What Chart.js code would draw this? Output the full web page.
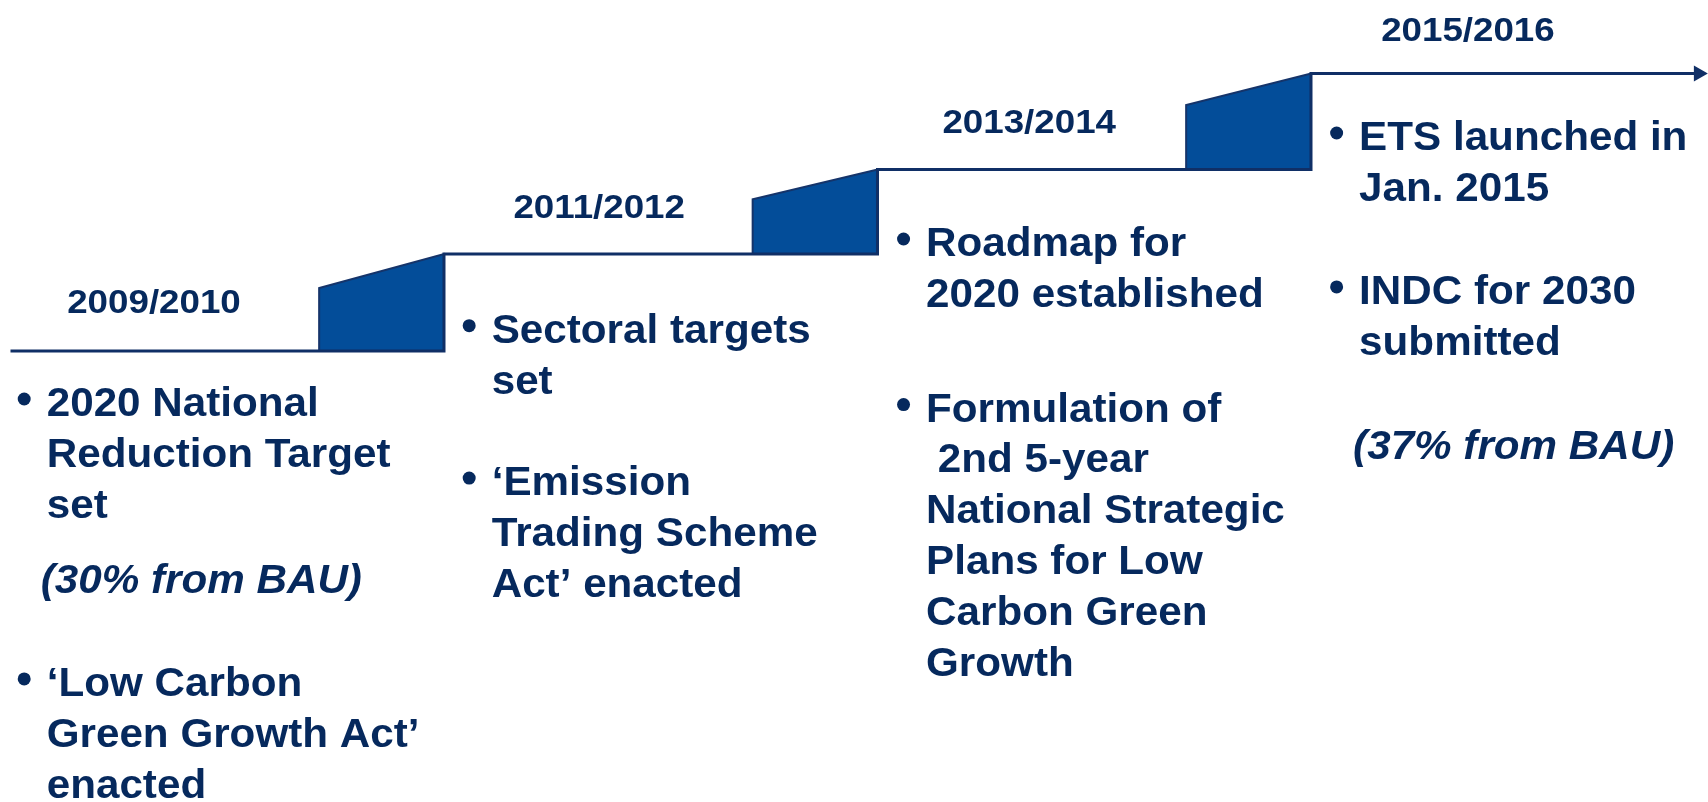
<!DOCTYPE html>
<html>
<head>
<meta charset="utf-8">
<script src="https://cdn.jsdelivr.net/npm/chart.js@4.4.1/dist/chart.umd.min.js"></script>
<style>
  html, body { margin: 0; padding: 0; background: #fff; overflow: hidden; }
  #wrap { width: 1708px; height: 802px; position: relative; }
</style>
</head>
<body>
<div id="wrap"><canvas id="chart"></canvas></div>
<script>
"use strict";

// x axis: one unit per two-year period (block right edges sit at 1, 2, 3)
// y axis: step level, baseline = 0
const periods = ["2009/2010", "2011/2012", "2013/2014", "2015/2016"];
const stepLevels = [0, 0.97, 1.815, 2.775];
const blockStartX = [0.712, 1.712, 2.712];
const blockRiseLevels = [0.63, 1.517, 2.46];
const arrowEndX = 3.894;

const periodLabelX = [0.331, 1.358, 2.35, 3.362];
const periodLabelY = [0.383, 1.327, 2.177, 3.10];

const noteX = [0.0835, 1.11, 2.112, 3.111];
const noteY = [-0.65, 0.083, 0.95, 2.01];

const notes2009 = [
  { bullet: true, lines: ["2020 National", "Reduction Target", "set"] },
  { italic: true, before: 1.49, lines: ["(30% from BAU)"] },
  { bullet: true, before: 2.02, lines: ["‘Low Carbon", "Green Growth Act’", "enacted"] },
];
const notes2011 = [
  { bullet: true, lines: ["Sectoral targets", "set"] },
  { bullet: true, before: 2, lines: ["‘Emission", "Trading Scheme", "Act’ enacted"] },
];
const notes2013 = [
  { bullet: true, lines: ["Roadmap for", "2020 established"] },
  { bullet: true, before: 2.26, lines: ["Formulation of", " 2nd 5-year", "National Strategic",
    "Plans for Low", "Carbon Green", "Growth"] },
];
const notes2015 = [
  { bullet: true, lines: ["ETS launched in", "Jan. 2015"] },
  { bullet: true, before: 2.03, lines: ["INDC for 2030", "submitted"] },
  { italic: true, before: 2.06, lines: ["(37% from BAU)"] },
];
const noteColumns = [notes2009, notes2011, notes2013, notes2015];

const TEXT = "#06295d";
const LINE = "#102f66";
const BLOCK = "#034d99";
const BLOCK_EDGE = "#15346a";
const FONT = "'Liberation Sans', Arial, sans-serif";
const LINE_H = 50.8;

// staircase: flat run, then up the right side of each block
const stairs = [{ x: 0, y: stepLevels[0] }];
for (let k = 1; k < stepLevels.length; k++) {
  stairs.push({ x: k, y: stepLevels[k - 1] }, { x: k, y: stepLevels[k] });
}
stairs.push({ x: arrowEndX, y: stepLevels[stepLevels.length - 1] });

const blockSets = blockStartX.map((bx, k) => ({
  data: [
    { x: bx, y: stepLevels[k] },
    { x: bx, y: blockRiseLevels[k] },
    { x: k + 1, y: stepLevels[k + 1] },
    { x: k + 1, y: stepLevels[k] },
  ],
  fill: "shape",
  backgroundColor: BLOCK,
  borderColor: BLOCK_EDGE,
  borderWidth: 2,
  pointRadius: 0,
  order: 2,
}));

function stretched(ctx, text, px, py, font, sx, align) {
  ctx.save();
  ctx.translate(px, py);
  ctx.scale(sx, 1);
  ctx.font = font;
  ctx.textAlign = align;
  ctx.fillText(text, 0, 0);
  ctx.restore();
}

const timelineText = {
  id: "timelineText",
  afterDatasetsDraw(chart) {
    const { ctx, scales: { x, y } } = chart;
    ctx.save();
    ctx.fillStyle = TEXT;
    ctx.textBaseline = "alphabetic";

    periods.forEach((p, i) => {
      stretched(ctx, p, x.getPixelForValue(periodLabelX[i]),
        y.getPixelForValue(periodLabelY[i]), "bold 34px " + FONT, 1.08, "center");
    });

    noteColumns.forEach((col, i) => {
      const left = x.getPixelForValue(noteX[i]);
      let base = y.getPixelForValue(noteY[i]);
      col.forEach((para, pi) => {
        if (pi > 0) base += (para.before || 1) * LINE_H;
        para.lines.forEach((line, j) => {
          if (j > 0) base += LINE_H;
          if (para.bullet && j === 0) {
            ctx.beginPath();
            ctx.arc(left - 22.5, base - 17, 6.5, 0, Math.PI * 2);
            ctx.fill();
          }
          const font = (para.italic ? "italic " : "") + "bold 40px " + FONT;
          stretched(ctx, line, para.italic ? left - 6 : left, base, font, 1.055, "left");
        });
      });
    });
    ctx.restore();
  },
};

new Chart(document.getElementById("chart"), {
  type: "line",
  data: {
    datasets: [
      {
        data: stairs,
        borderColor: LINE,
        borderWidth: 3,
        pointRadius: 0,
        fill: false,
        order: 1,
      },
      {
        data: [{ x: arrowEndX, y: stepLevels[stepLevels.length - 1] }],
        showLine: false,
        pointStyle: "triangle",
        pointRotation: 90,
        pointRadius: 9.3,
        pointHoverRadius: 9.3,
        pointBackgroundColor: LINE,
        pointBorderWidth: 0,
        clip: false,
        order: 0,
      },
      ...blockSets,
    ],
  },
  options: {
    responsive: true,
    maintainAspectRatio: false,
    animation: false,
    events: [],
    layout: { padding: 0, autoPadding: false },
    elements: { line: { tension: 0 } },
    scales: {
      x: { type: "linear", min: -0.0242, max: 3.9158, display: false },
      y: { type: "linear", min: -4.51, max: 3.51, display: false },
    },
    plugins: { legend: { display: false }, tooltip: { enabled: false } },
  },
  plugins: [timelineText],
});
</script>
</body>
</html>
